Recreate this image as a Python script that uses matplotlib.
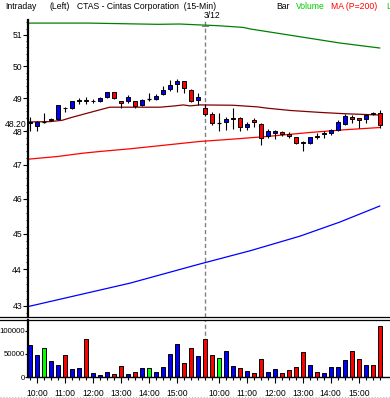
import matplotlib
matplotlib.use("Agg")
import matplotlib.pyplot as plt
import numpy as np
from matplotlib.lines import Line2D
from matplotlib.ticker import FixedLocator, NullFormatter, FixedFormatter
import matplotlib.transforms as mtransforms

plt.rcParams['font.family'] = ['Liberation Sans', 'DejaVu Sans']

# ---------------- data ----------------
# 15-min bars, day 1 (26 bars, 9:45-16:00) then day 2 (25 bars, 9:45-15:45)
opens = [48.25, 48.16, 48.28, 48.35, 48.36, 48.72, 48.70, 48.92, 48.94, 48.91,
         48.92, 49.03, 49.19, 48.92, 48.93, 48.92, 48.80, 48.99, 48.99, 49.13,
         49.28, 49.44, 49.53, 49.26, 48.95, 48.72,
         48.51, 48.24, 48.29, 48.37, 48.39, 48.12, 48.33, 48.22, 47.86, 47.95,
         47.98, 47.91, 47.81, 47.66, 47.65, 47.85, 47.92, 47.93, 48.05, 48.22,
         48.42, 48.39, 48.36, 48.55, 48.56]
highs = [48.44, 48.31, 48.56, 48.40, 48.80, 48.74, 48.93, 49.01, 49.03, 48.99,
         49.03, 49.20, 49.19, 48.92, 49.11, 48.93, 48.97, 49.16, 49.13, 49.37,
         49.56, 49.59, 49.55, 49.30, 49.16, 48.83,
         48.59, 48.54, 48.44, 48.70, 48.44, 48.29, 48.39, 48.25, 48.07, 48.05,
         48.01, 47.98, 47.82, 47.70, 47.83, 47.93, 48.00, 48.07, 48.33, 48.53,
         48.49, 48.40, 48.53, 48.59, 48.63]
lows = [47.99, 47.99, 48.24, 48.32, 48.34, 48.59, 48.67, 48.83, 48.83, 48.87,
        48.90, 49.00, 48.98, 48.72, 48.85, 48.70, 48.78, 48.92, 48.96, 49.10,
        49.22, 49.20, 49.16, 48.90, 48.81, 48.46,
        48.19, 48.02, 48.05, 48.07, 47.99, 48.05, 48.14, 47.59, 47.78, 47.76,
        47.84, 47.78, 47.60, 47.40, 47.60, 47.75, 47.79, 47.88, 48.00, 48.19,
        48.24, 48.09, 48.24, 48.49, 48.09]
closes = [48.27, 48.29, 48.28, 48.37, 48.80, 48.70, 48.92, 48.94, 48.92, 48.93,
          49.00, 49.19, 49.01, 48.85, 49.03, 48.78, 48.95, 48.99, 49.09, 49.26,
          49.42, 49.53, 49.32, 48.93, 49.04, 48.51,
          48.24, 48.24, 48.36, 48.39, 48.12, 48.22, 48.27, 47.79, 48.01, 48.01,
          47.91, 47.84, 47.63, 47.64, 47.81, 47.83, 47.94, 48.03, 48.29, 48.47,
          48.36, 48.34, 48.48, 48.53, 48.20]
volumes = [69000, 47000, 63500, 34000, 25000, 47000, 18000, 19500, 83000, 8500,
           4000, 10000, 6000, 23000, 6500, 10500, 19000, 19000, 10500, 21000,
           50000, 71000, 30000, 62000, 45000, 82000,
           47000, 41000, 56000, 24000, 20000, 13000, 9000, 39000, 11000, 16500,
           9000, 15000, 22000, 53000, 26000, 11000, 9000, 22000, 22000, 37000,
           56000, 39000, 26000, 26000, 110000]

# moving averages (sampled at bar positions)
ma_short_x = [-0.3, 2.9, 4.6, 6.0, 7.9, 10.0, 11.4, 18.6, 20.7, 21.9, 22.9, 24.3,
              29.0, 32.5, 33.9, 37.2, 41.5, 45.0, 50.0]
ma_short_y = [48.28, 48.29, 48.33, 48.42, 48.53, 48.65, 48.73, 48.73, 48.77, 48.80,
              48.77, 48.80, 48.79, 48.74, 48.70, 48.63, 48.57, 48.53, 48.49]
ma200_x = [-0.3, 3.9, 7.6, 10.0, 14.3, 24.3, 29.0, 33.9, 40.0, 44.8, 50.0]
ma200_y = [47.16, 47.24, 47.34, 47.39, 47.47, 47.69, 47.76, 47.84, 47.96, 48.04, 48.11]
ma_green_x = [-0.3, 8.3, 18.3, 21.4, 24.3, 26.5, 28.6, 30.5, 31.5, 38.6, 44.3, 50.0]
ma_green_y = [51.38, 51.38, 51.34, 51.35, 51.32, 51.30, 51.27, 51.24, 51.19, 50.94, 50.74, 50.58]
ma_blue_x = [-0.3, 14.3, 24.3, 31.5, 38.6, 44.3, 50.0]
ma_blue_y = [42.98, 43.62, 44.15, 44.52, 44.93, 45.33, 45.79]

hour_pos = [1, 5, 9, 13, 17, 21, 27, 31, 35, 39, 43, 47]
hour_labels = ["10:00", "11:00", "12:00", "13:00", "14:00", "15:00"] * 2
price_ticks = [43, 44, 45, 46, 47, 48, 49, 50, 51]
vol_ticks = [0, 50000, 100000]
day_break = 25
last_label = "48.20"

# ---------------- figure ----------------
W, H = 390, 398
fig = plt.figure(figsize=(W / 100, H / 100), dpi=100)
fx = lambda px: px / W
fy = lambda py: 1 - py / H

axp = fig.add_axes([fx(28), fy(317), fx(390) - fx(28), fy(20) - fy(317)])
axv = fig.add_axes([fx(28), fy(377), fx(390) - fx(28), fy(320) - fy(377)])

n = len(opens)
x = np.arange(n)
xl = ((28 - 30) / 6.994, (390 - 30) / 6.994)
FS = 6.2

# candles
axp.vlines(x, lows, highs, color='black', lw=0.8, zorder=2)
for i in range(n):
    o, c = opens[i], closes[i]
    if abs(c - o) < 1e-9:
        axp.hlines(o, i - 0.31, i + 0.31, color='black', lw=0.9, zorder=3)
    else:
        col = '#0000FF' if c > o else '#FF0000'
        axp.bar(i, abs(c - o), bottom=min(o, c), width=0.62, color=col,
                edgecolor='black', linewidth=0.7, zorder=3)

axp.plot(ma_short_x, ma_short_y, color='#800000', lw=0.9, zorder=1)
axp.plot(ma200_x, ma200_y, color='#FF0000', lw=0.9, zorder=1)
axp.plot(ma_green_x, ma_green_y, color='#008000', lw=0.9, zorder=1)
axp.plot(ma_blue_x, ma_blue_y, color='#0000FF', lw=0.9, zorder=1)

axp.set_yscale('log')
axp.set_ylim(42.70, 51.48)
axp.set_xlim(*xl)
axp.yaxis.set_major_locator(FixedLocator(price_ticks))
axp.yaxis.set_major_formatter(FixedFormatter([str(t) for t in price_ticks]))
axp.yaxis.set_minor_locator(FixedLocator(np.arange(42.8, 51.5, 0.2)))
axp.yaxis.set_minor_formatter(NullFormatter())
axp.tick_params(axis='y', which='major', length=3.5, width=0.8, pad=0.8, labelsize=FS)
axp.tick_params(axis='y', which='minor', length=1.6, width=0.6)
axp.set_xticks([])
for s in ['top', 'right', 'bottom']:
    axp.spines[s].set_visible(False)
axp.spines['left'].set_linewidth(1.6)
axp.axvline(day_break, color='#808080', lw=1, dashes=(3, 2), zorder=0)
axp.plot([day_break - 0.4, day_break + 0.4], [51.3, 51.3], color='#808080', lw=0.8,
         clip_on=False)

trans = mtransforms.blended_transform_factory(axp.transAxes, axp.transData)
axp.text(-0.003, closes[-1], last_label, transform=trans, ha='right', va='center',
         fontsize=FS, clip_on=False, zorder=5,
         bbox=dict(facecolor='white', edgecolor='none', pad=0.2))

# volume
vcols = ['#0000FF' if closes[i] > opens[i] else ('#FF0000' if closes[i] < opens[i] else '#00FF00')
         for i in range(n)]
axv.bar(x, volumes, width=0.62, color=vcols, edgecolor='black', linewidth=0.7)
axv.set_xlim(*xl)
axv.set_ylim(0, 123000)
axv.set_yticks(vol_ticks)
axv.set_yticklabels([str(v) for v in vol_ticks])
axv.set_xticks(hour_pos)
axv.set_xticklabels(hour_labels)
axv.xaxis.set_minor_locator(FixedLocator(x))
axv.tick_params(axis='x', which='major', length=4.5, width=0.8, pad=4.5, labelsize=FS)
axv.tick_params(axis='x', which='minor', length=2.2, width=0.8)
axv.tick_params(axis='y', which='major', length=2.0, width=0.8, pad=0.4, labelsize=5.6)
for s in ['top', 'right']:
    axv.spines[s].set_visible(False)
axv.spines['left'].set_linewidth(1.6)
axv.spines['bottom'].set_linewidth(1.0)
axv.axvline(day_break, color='#808080', lw=1, dashes=(3, 2), zorder=0)

# separators
for yy in (316.8, 319.6):
    fig.add_artist(Line2D([0, 1], [fy(yy), fy(yy)], color='black', lw=0.9))
fig.add_artist(Line2D([0, 1], [fy(396.5), fy(396.5)], color='#BBBBBB', lw=0.8, ls=':'))

# header text
ty = fy(6.5)
fig.text(fx(5), ty, "Intraday", fontsize=FS, va='center')
fig.text(fx(50), ty, "(Left)", fontsize=FS, va='center')
fig.text(fx(77), ty, "CTAS - Cintas Corporation  (15-Min)", fontsize=FS, va='center')
fig.text(fx(276), ty, "Bar", fontsize=FS, va='center')
fig.text(fx(296), ty, "Volume", fontsize=FS, va='center', color='#00C800')
fig.text(fx(331), ty, "MA (P=200)", fontsize=FS, va='center', color='#FF0000')
fig.text(fx(386), ty, "L", fontsize=FS, va='center', color='#00C800')
fig.text(fx(204), fy(15.5), "3/12", fontsize=FS, va='center')

fig.savefig("out.png", dpi=100)
